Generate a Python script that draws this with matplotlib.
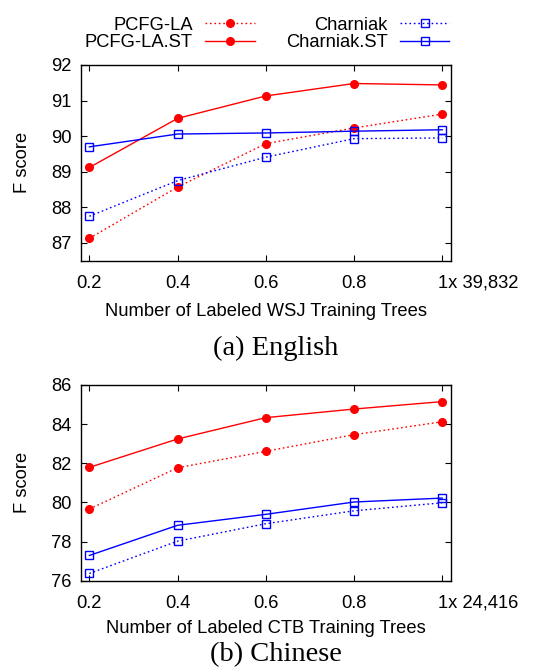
import matplotlib
matplotlib.use("Agg")
import matplotlib.pyplot as plt
from matplotlib import transforms

plt.rcParams['font.family'] = ['Liberation Sans', 'DejaVu Sans']

x = [0.2, 0.4, 0.6, 0.8, 1.0]
xtick_labels_en = ["0.2", "0.4", "0.6", "0.8", "1x 39,832"]
xtick_labels_zh = ["0.2", "0.4", "0.6", "0.8", "1x 24,416"]

en_pcfg = [87.13, 88.57, 89.79, 90.23, 90.62]
en_pcfg_st = [89.12, 90.50, 91.13, 91.48, 91.44]
en_char = [87.75, 88.75, 89.41, 89.93, 89.95]
en_char_st = [89.70, 90.06, 90.09, 90.14, 90.18]

zh_pcfg = [79.66, 81.77, 82.61, 83.46, 84.12]
zh_pcfg_st = [81.79, 83.24, 84.33, 84.77, 85.15]
zh_char = [76.37, 78.02, 78.91, 79.57, 79.98]
zh_char_st = [77.29, 78.83, 79.39, 80.02, 80.22]

series_names = ["PCFG-LA", "PCFG-LA.ST", "Charniak", "Charniak.ST"]

fig = plt.figure(figsize=(5.51, 6.68), dpi=100)
ax1 = fig.add_axes([0.147, 0.6097, 0.6715, 0.293])
ax2 = fig.add_axes([0.147, 0.1307, 0.6715, 0.293])

red = '#ff0000'
blue = '#0000ff'
dot = (0, (1.2, 2.0))
FS = 13.2

def draw(ax, ys, ylim, yticks, xlabels, xlabel, xlpad):
    p, pst, c, cst = ys
    h1, = ax.plot(x, p, color=red, ls=dot, lw=1.0, marker='o', ms=5.5, mfc=red, mec=red)
    h2, = ax.plot(x, pst, color=red, ls='-', lw=1.0, marker='o', ms=5.5, mfc=red, mec=red)
    h3, = ax.plot(x, c, color=blue, ls=dot, lw=1.0, marker='s', ms=6, mfc='none', mec=blue, mew=1.0)
    h4, = ax.plot(x, cst, color=blue, ls='-', lw=1.0, marker='s', ms=6, mfc='none', mec=blue, mew=1.0)
    ax.set_xlim(0.181, 1.02)
    ax.set_ylim(*ylim)
    ax.set_yticks(yticks)
    ax.set_xticks(x)
    ax.set_xticklabels(xlabels)
    ax.tick_params(direction='in', length=4, width=0.8, top=True, right=True,
                   labelsize=FS)
    ax.tick_params(axis='x', pad=10)
    ax.tick_params(axis='y', pad=7)
    for sp in ax.spines.values():
        sp.set_linewidth(1.0)
    lbls = ax.get_xticklabels()
    last = lbls[-1]
    last.set_horizontalalignment('left')
    last.set_transform(last.get_transform() + transforms.ScaledTranslation(-4/100, 0, fig.dpi_scale_trans))
    ax.set_ylabel("F score", fontsize=FS, labelpad=14)
    ax.set_xlabel(xlabel, fontsize=FS, labelpad=xlpad)
    return [h1, h2, h3, h4]

handles = draw(ax1, [en_pcfg, en_pcfg_st, en_char, en_char_st], (86.5, 92),
               [87, 88, 89, 90, 91, 92], xtick_labels_en,
               "Number of Labeled WSJ Training Trees", 8)
draw(ax2, [zh_pcfg, zh_pcfg_st, zh_char, zh_char_st], (76, 86),
     [76, 78, 80, 82, 84, 86], xtick_labels_zh,
     "Number of Labeled CTB Training Trees", 6)

fig.legend(handles, series_names, ncol=2, markerfirst=False, frameon=False,
           loc='upper center', bbox_to_anchor=(0.485, 1.0), fontsize=FS,
           handlelength=2.7, columnspacing=1.7, handletextpad=0.67,
           labelspacing=0.05)

fig.text(0.5, 1 - 348/668, "(a) English", ha='center', va='center',
         fontsize=20.5, family='Liberation Serif')
fig.text(0.5, 1 - 655/668, "(b) Chinese", ha='center', va='center',
         fontsize=20.5, family='Liberation Serif')

fig.savefig("out.png", dpi=100)
